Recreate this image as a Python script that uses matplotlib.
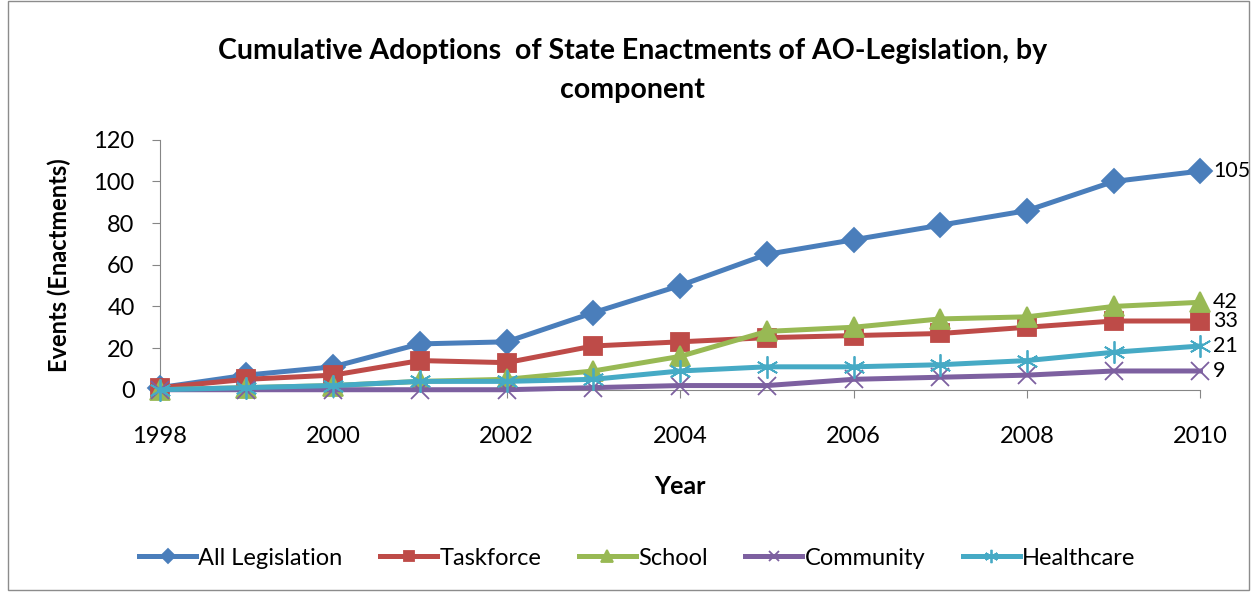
import matplotlib
matplotlib.use('Agg')
import matplotlib.pyplot as plt
from matplotlib.patches import Rectangle

plt.rcParams['font.family'] = ['Lato', 'DejaVu Sans']

# data
years = [1998, 1999, 2000, 2001, 2002, 2003, 2004, 2005, 2006, 2007, 2008, 2009, 2010]
all_leg = [1, 7, 11, 22, 23, 37, 50, 65, 72, 79, 86, 100, 105]
taskforce = [1, 5, 7, 14, 13, 21, 23, 25, 26, 27, 30, 33, 33]
school = [0, 1, 2, 4, 5, 9, 16, 28, 30, 34, 35, 40, 42]
community = [0, 0, 0, 0, 0, 1, 2, 2, 5, 6, 7, 9, 9]
healthcare = [0, 1, 2, 4, 4, 5, 9, 11, 11, 12, 14, 18, 21]

series = [
    ('All Legislation', all_leg, '#4A7EBB', 'D', 12),
    ('Taskforce', taskforce, '#BE4B48', 's', 13),
    ('School', school, '#98B954', '^', 14),
    ('Community', community, '#7D60A0', 'x', 13),
    ('Healthcare', healthcare, '#46AAC5', (6, 2, 0), 16),
]

fig = plt.figure(figsize=(12.57, 5.95), dpi=100)
fig.patches.append(Rectangle((0.006, 0.008), 0.988, 0.99, transform=fig.transFigure,
                             fill=False, edgecolor='#8c8c8c', linewidth=1))
ax = fig.add_axes([0.127, 0.345, 0.828, 0.42])

for name, vals, col, mk, ms in series:
    ax.plot(years, vals, color=col, linewidth=3.6, marker=mk, markersize=ms,
            markeredgecolor=col, markeredgewidth=1.3, label=name, clip_on=False, zorder=3)
    ax.annotate(str(vals[-1]), (years[-1], vals[-1]), xytext=(9, 0), textcoords='offset points',
                fontsize=15.5, va='center', ha='left')

ax.set_xlim(1998, 2010)
ax.set_ylim(0, 120)
ax.set_xticks(range(1998, 2011, 2))
ax.set_yticks(range(0, 121, 20))
ax.tick_params(labelsize=17, color='#868686', length=6)
for s in ['top', 'right']:
    ax.spines[s].set_visible(False)
for s in ['left', 'bottom']:
    ax.spines[s].set_color('#868686')
ax.tick_params(axis='x', pad=20)
ax.tick_params(axis='y', pad=12)

ax.set_xlabel('Year', fontsize=18, fontweight='bold', labelpad=20)
ax.set_ylabel('Events (Enactments)', fontsize=17, fontweight='bold', labelpad=16)
fig.text(0.503, 0.915, 'Cumulative Adoptions  of State Enactments of AO-Legislation, by',
         ha='center', va='center', fontsize=20.5, fontweight='bold')
fig.text(0.503, 0.848, 'component', ha='center', va='center', fontsize=20.5, fontweight='bold')

fig.legend(loc='center', bbox_to_anchor=(0.507, 0.062), ncol=5, frameon=False, fontsize=17,
           handlelength=2.4, handletextpad=0.1, columnspacing=1.6, markerscale=0.6)

fig.savefig('out.png', dpi=100)
